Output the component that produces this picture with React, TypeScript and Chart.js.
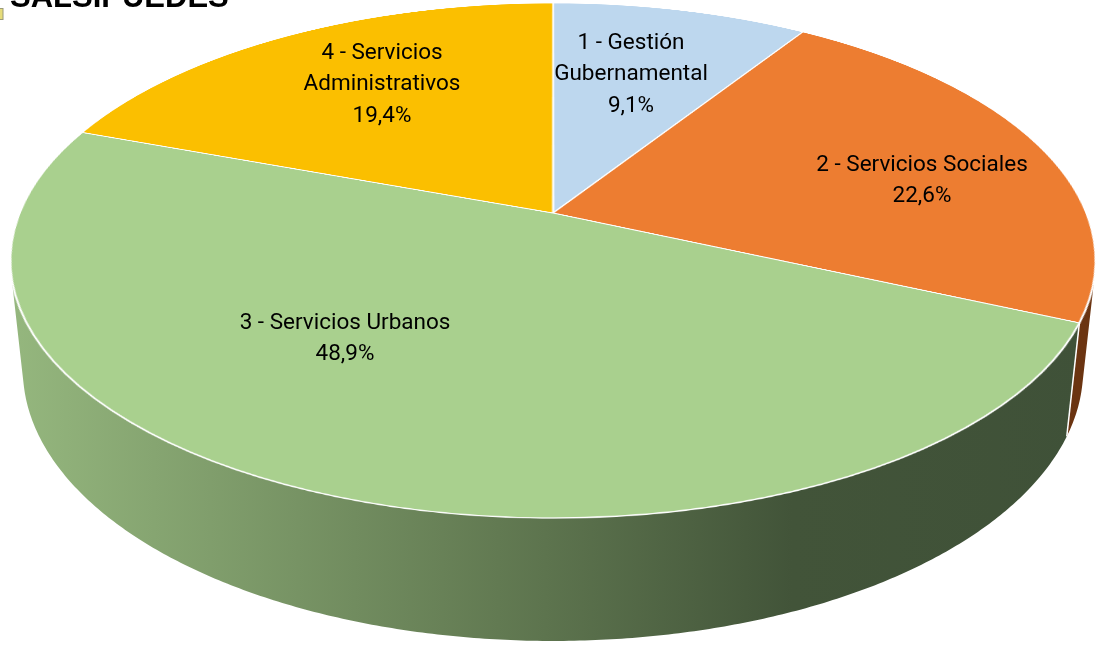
import React, { useEffect, useRef } from "react";
import { Chart, registerables } from "chart.js";

Chart.register(...registerables);

// ---- data ----
const categories = [
  "1 - Gestión Gubernamental",
  "2 - Servicios Sociales",
  "3 - Servicios Urbanos",
  "4 - Servicios Administrativos",
];
const labelLines = [
  ["1 - Gestión", "Gubernamental"],
  ["2 - Servicios Sociales"],
  ["3 - Servicios Urbanos"],
  ["4 - Servicios", "Administrativos"],
];
const shares = [9.1, 22.6, 48.9, 19.4];
const titleText = "SALSIPUEDES";

// ---- styles / layout ----
const VIEW_W = 1099;
const VIEW_H = 646;
const SRC_H = 1100; // canvas is taller than the view; flat pie is rendered there then projected
const topColors = ["#BDD7EE", "#ED7D31", "#A9D08E", "#FBBF00"];
const sideColors = ["#6F8CA8", "#6B3411", "GRADIENT", "#8F6E00"];
const labelAnchors = [
  [631, 43],
  [922, 165],
  [345, 323],
  [382, 53],
];
const FONT = "22.5px Roboto, 'Liberation Sans', sans-serif";
const LINE_H = 31.5;

// perspective camera (units of pie radius)
const CAM = {
  cx: 553, // screen x of pie centre
  y0: 213, // screen y of pie centre
  sinPhi: 0.4664,
  cosPhi: 0.8846,
  d: 4.795,
  F: 2557,
  h: 0.2332, // pie thickness
};

function project(u: number, v: number, z: number) {
  const w = CAM.d - v * CAM.cosPhi - z * CAM.sinPhi;
  return {
    x: CAM.cx + (CAM.F * u) / w,
    y: CAM.y0 + (CAM.F * (v * CAM.sinPhi - z * CAM.cosPhi)) / w,
  };
}

function sideFill(ctx: CanvasRenderingContext2D, i: number) {
  if (sideColors[i] !== "GRADIENT") return sideColors[i];
  const g = ctx.createLinearGradient(10, 0, 1096, 0);
  g.addColorStop(0, "#95B77E");
  g.addColorStop(0.45, "#627A52");
  g.addColorStop(0.72, "#425439");
  g.addColorStop(1, "#3F5138");
  return g;
}

const pie3d = {
  id: "pie3d",
  afterDatasetsDraw(chart: any) {
    const ctx: CanvasRenderingContext2D = chart.ctx;
    const canvas: HTMLCanvasElement = chart.canvas;
    const meta = chart.getDatasetMeta(0);
    const arcs = meta.data;
    const a0 = arcs[0];
    const sx0 = a0.x;
    const sy0 = a0.y;
    const R = a0.outerRadius;

    // copy the library's flat pie
    const off = document.createElement("canvas");
    off.width = canvas.width;
    off.height = canvas.height;
    off.getContext("2d")!.drawImage(canvas, 0, 0);

    ctx.save();
    ctx.setTransform(1, 0, 0, 1, 0, 0);
    ctx.clearRect(0, 0, canvas.width, canvas.height);

    // ---- side walls (visible where v > 1/Vc) ----
    const vc = CAM.d * CAM.cosPhi;
    const vis = Math.asin(1 / vc);
    const visRanges = [
      [vis, Math.PI - vis],
      [vis + 2 * Math.PI, 3 * Math.PI - vis],
      [vis - 2 * Math.PI, -Math.PI - vis],
    ];
    const boundaries: number[] = [];
    arcs.forEach((arc: any, i: number) => {
      const { startAngle, endAngle } = arc.getProps(["startAngle", "endAngle"], true);
      for (const [lo, hi] of visRanges) {
        const a1 = Math.max(startAngle, lo);
        const a2 = Math.min(endAngle, hi);
        if (a2 <= a1) continue;
        if (startAngle > lo && startAngle < hi) boundaries.push(startAngle);
        const n = Math.max(4, Math.ceil((a2 - a1) * 120));
        ctx.beginPath();
        for (let k = 0; k <= n; k++) {
          const t = a1 + ((a2 - a1) * k) / n;
          const p = project(Math.cos(t), Math.sin(t), 0);
          if (k === 0) ctx.moveTo(p.x, p.y);
          else ctx.lineTo(p.x, p.y);
        }
        for (let k = n; k >= 0; k--) {
          const t = a1 + ((a2 - a1) * k) / n;
          const p = project(Math.cos(t), Math.sin(t), -CAM.h);
          ctx.lineTo(p.x, p.y);
        }
        ctx.closePath();
        ctx.fillStyle = sideFill(ctx, i) as any;
        ctx.fill();
      }
    });
    ctx.strokeStyle = "#FFFFFF";
    ctx.lineWidth = 1.5;
    boundaries.forEach((t) => {
      const p1 = project(Math.cos(t), Math.sin(t), 0);
      const p2 = project(Math.cos(t), Math.sin(t), -CAM.h);
      ctx.beginPath();
      ctx.moveTo(p1.x, p1.y);
      ctx.lineTo(p2.x, p2.y);
      ctx.stroke();
    });

    // ---- top face: project the flat pie row by row ----
    const A = CAM.F / CAM.d;
    const B = (CAM.F * CAM.sinPhi) / CAM.d;
    const c = CAM.cosPhi / CAM.d;
    const vOf = (y: number) => (y - CAM.y0) / (B + c * (y - CAM.y0));
    const yTop = Math.floor(CAM.y0 - B / (1 + c)) - 2;
    const yBot = Math.ceil(CAM.y0 + B / (1 - c)) + 2;
    ctx.imageSmoothingEnabled = true;
    for (let y = Math.max(0, yTop); y <= yBot; y++) {
      let v0 = vOf(y);
      let v1 = vOf(y + 1);
      if (v1 < -1.01 || v0 > 1.01) continue;
      v0 = Math.max(v0, -1.01);
      v1 = Math.min(v1, 1.01);
      const vm = (v0 + v1) / 2;
      const s0 = sy0 + v0 * R;
      const sh = Math.max((v1 - v0) * R, 0.05);
      const k = A / ((1 - c * vm) * R);
      const dx = CAM.cx - k * sx0;
      ctx.drawImage(off, 0, s0, off.width, sh, dx, y, k * off.width, 1);
    }

    // ---- labels ----
    ctx.font = FONT;
    ctx.fillStyle = "#000000";
    ctx.textAlign = "center";
    ctx.textBaseline = "middle";
    shares.forEach((val, i) => {
      const lines = [...labelLines[i], val.toFixed(1).replace(".", ",") + "%"];
      const [x, y] = labelAnchors[i];
      lines.forEach((t, k) => ctx.fillText(t, x, y + k * LINE_H));
    });

    // ---- cropped title ----
    ctx.font = "bold 31px 'Liberation Sans', Arial, sans-serif";
    ctx.textAlign = "left";
    ctx.textBaseline = "alphabetic";
    ctx.fillText(titleText, 10, 7);
    ctx.fillStyle = "#E6DC7A";
    ctx.strokeStyle = "#9A9A7A";
    ctx.lineWidth = 1;
    ctx.fillRect(0, 9, 3, 11);
    ctx.strokeRect(-0.5, 8.5, 3.5, 11);
    ctx.restore();
  },
};

export default function App() {
  const ref = useRef<HTMLCanvasElement | null>(null);
  useEffect(() => {
    if (!ref.current) return;
    const chart = new Chart(ref.current, {
      type: "pie",
      data: {
        labels: categories,
        datasets: [
          {
            data: shares,
            backgroundColor: topColors,
            borderColor: "#FFFFFF",
            borderWidth: 2,
          },
        ],
      },
      options: {
        responsive: false,
        animation: false,
        events: [],
        devicePixelRatio: 1,
        layout: { padding: 0 },
        rotation: 0,
        plugins: {
          legend: { display: false },
          tooltip: { enabled: false },
          title: { display: false },
        },
      },
      plugins: [pie3d],
    });
    return () => chart.destroy();
  }, []);
  return (
    <div
      style={{
        position: "fixed",
        left: 0,
        top: 0,
        width: VIEW_W,
        height: VIEW_H,
        overflow: "hidden",
        background: "#FFFFFF",
      }}
    >
      <canvas
        ref={ref}
        width={VIEW_W}
        height={SRC_H}
        style={{ display: "block", width: VIEW_W, height: SRC_H }}
      />
    </div>
  );
}
